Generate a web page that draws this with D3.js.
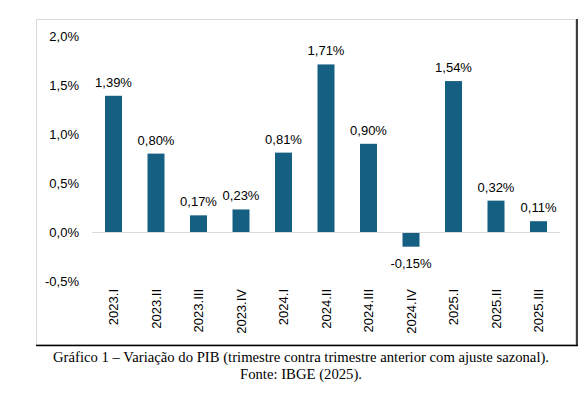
<!DOCTYPE html>
<html>
<head>
<meta charset="utf-8">
<script src="https://cdn.jsdelivr.net/npm/d3@7"></script>
<style>
  body { margin: 0; background: #fff; }
  svg { display: block; }
</style>
</head>
<body>
<svg id="chart" width="585" height="397"></svg>
<script>
// trimestres e variacao do PIB (%)
const quarters = ["2023.I", "2023.II", "2023.III", "2023.IV", "2024.I", "2024.II",
  "2024.III", "2024.IV", "2025.I", "2025.II", "2025.III"];
const values = [1.39, 0.80, 0.17, 0.23, 0.81, 1.71, 0.90, -0.15, 1.54, 0.32, 0.11];
const yTicks = [-0.5, 0, 0.5, 1.0, 1.5, 2.0];
const caption = [
  "Gráfico 1 – Variação do PIB (trimestre contra trimestre anterior com ajuste sazonal).",
  "Fonte: IBGE (2025)."
];

const svg = d3.select("#chart");
const barColor = "#156082";
const fmt = v => v.toFixed(1).replace(".", ",") + "%";
const fmt2 = v => v.toFixed(2).replace(".", ",") + "%";

// frame
svg.append("rect")
  .attr("x", 36.5).attr("y", 19.5)
  .attr("width", 539).attr("height", 325)
  .attr("fill", "none").attr("stroke", "#d9d9d9").attr("stroke-width", 1);
svg.append("path")
  .attr("d", "M577,19L577,346M36,345.5L578,345.5")
  .attr("fill", "none").attr("stroke", "#000").attr("stroke-width", 1.5);

const x = d3.scaleBand()
  .domain(quarters)
  .range([92.25, 559.75])
  .paddingInner(0.6)
  .paddingOuter(0.3);

const y = d3.scaleLinear()
  .domain([-0.5, 2.0])
  .range([281, 36]);

// y axis labels
svg.append("g")
  .selectAll("text")
  .data(yTicks)
  .join("text")
  .attr("x", 79)
  .attr("y", d => y(d))
  .attr("dy", "0.35em")
  .attr("text-anchor", "end")
  .attr("font-family", "Liberation Sans, Arial, sans-serif")
  .attr("font-size", 13)
  .attr("fill", "#000")
  .text(fmt);

// bars
svg.append("g")
  .selectAll("rect")
  .data(values)
  .join("rect")
  .attr("x", (d, i) => x(quarters[i]))
  .attr("y", d => y(Math.max(d, 0)))
  .attr("width", x.bandwidth())
  .attr("height", d => Math.abs(y(d) - y(0)))
  .attr("fill", barColor);

// zero line
svg.append("line")
  .attr("x1", 92).attr("x2", 560)
  .attr("y1", y(0) + 0.5).attr("y2", y(0) + 0.5)
  .attr("stroke", "#d9d9d9").attr("stroke-width", 1);

// value labels
svg.append("g")
  .selectAll("text")
  .data(values)
  .join("text")
  .attr("x", (d, i) => x(quarters[i]) + x.bandwidth() / 2)
  .attr("y", d => d >= 0 ? y(d) - 9 : y(d) + 21)
  .attr("text-anchor", "middle")
  .attr("font-family", "Liberation Sans, Arial, sans-serif")
  .attr("font-size", 13)
  .attr("fill", "#000")
  .text(fmt2);

// category labels, rotated
svg.append("g")
  .selectAll("text")
  .data(quarters)
  .join("text")
  .attr("transform", d => `translate(${x(d) + x.bandwidth() / 2},289) rotate(-90)`)
  .attr("dy", "0.35em")
  .attr("text-anchor", "end")
  .attr("font-family", "Liberation Sans, Arial, sans-serif")
  .attr("font-size", 13)
  .attr("fill", "#000")
  .text(d => d);

// caption
svg.append("g")
  .selectAll("text")
  .data(caption)
  .join("text")
  .attr("x", 301)
  .attr("y", (d, i) => 362 + i * 17)
  .attr("text-anchor", "middle")
  .attr("font-family", "Liberation Serif, Times New Roman, serif")
  .attr("font-size", 14.7)
  .attr("fill", "#000")
  .text(d => d);
</script>
</body>
</html>
